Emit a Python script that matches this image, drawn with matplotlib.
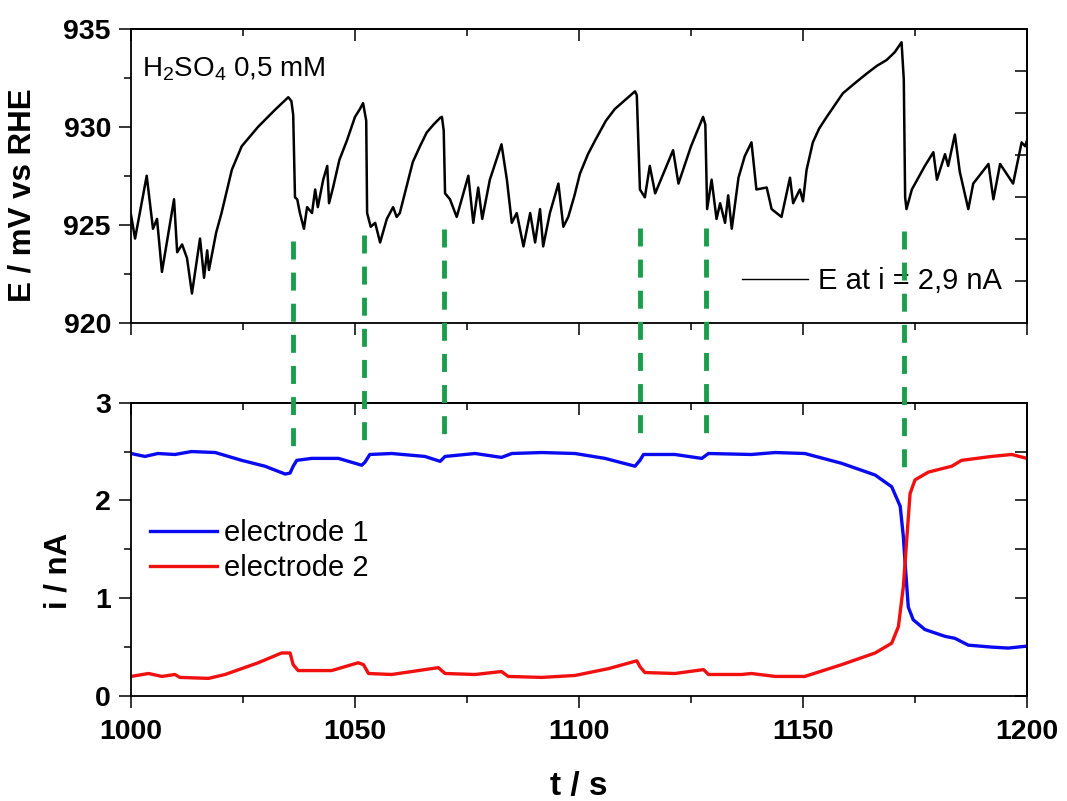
import numpy as np
import matplotlib
matplotlib.use("Agg")
import matplotlib.pyplot as plt
from matplotlib.lines import Line2D

plt.rcParams['font.family'] = ['Liberation Sans', 'DejaVu Sans']
plt.rcParams['mathtext.fontset'] = 'custom'
plt.rcParams['mathtext.rm'] = 'Liberation Sans'

# potential trace E (mV vs RHE)
E_t = [1000.0, 1000.9, 1003.5, 1004.9, 1005.8, 1006.9, 1009.6, 1010.3, 1011.4, 1012.5,
       1013.6, 1015.4, 1016.3, 1017.0, 1017.4, 1019.0, 1020.2, 1022.5, 1024.7, 1028.4,
       1032.1, 1035.1, 1035.8, 1036.2, 1036.6, 1037.1, 1037.7, 1038.6, 1039.3, 1040.4,
       1041.1, 1041.7, 1042.9, 1043.8, 1044.2, 1045.1, 1046.5, 1048.2, 1050.0, 1051.1,
       1051.8, 1052.5, 1052.7, 1053.5, 1054.5, 1055.6, 1057.1, 1058.5, 1059.3, 1060.0,
       1062.9, 1064.5, 1066.0, 1067.5, 1069.0, 1069.4, 1069.8, 1070.1, 1071.2, 1072.7,
       1075.3, 1076.4, 1077.5, 1078.4, 1080.1, 1082.7, 1083.9, 1085.0, 1086.1, 1087.6,
       1089.1, 1090.2, 1091.3, 1092.0, 1093.5, 1095.4, 1096.5, 1097.6, 1099.0, 1100.2,
       1102.0, 1103.6, 1106.0, 1108.0, 1110.5, 1112.5, 1112.9, 1113.6, 1114.7, 1115.8,
       1117.0, 1121.0, 1122.2, 1125.0, 1127.7, 1128.2, 1128.6, 1129.6, 1130.7, 1131.5,
       1132.6, 1133.3, 1134.1, 1135.6, 1137.0, 1138.5, 1139.6, 1141.9, 1143.0, 1145.2,
       1147.1, 1147.8, 1149.3, 1150.0, 1150.8, 1152.2, 1153.6, 1155.3, 1158.9, 1161.5,
       1164.2, 1166.5, 1168.7, 1170.5, 1172.0, 1172.5, 1172.8, 1173.1, 1174.3, 1177.2,
       1179.1, 1179.9, 1181.7, 1182.4, 1183.9, 1185.0, 1186.9, 1188.0, 1191.4, 1192.5,
       1194.0, 1196.9, 1198.8, 1199.6, 1200.0]
E_v = [925.5, 924.3, 927.5, 924.8, 925.3, 922.6, 926.3, 923.6, 924.0, 923.3,
       921.5, 924.3, 922.3, 923.7, 922.7, 924.6, 925.6, 927.8, 929.0, 930.0,
       930.85, 931.5, 931.3, 930.6, 926.4, 926.3, 925.6, 924.8, 925.9, 925.6,
       926.8, 925.9, 927.3, 928.0, 926.1, 926.9, 928.3, 929.3, 930.5, 930.9,
       931.2, 930.3, 925.6, 924.9, 925.1, 924.1, 925.3, 925.9, 925.4, 925.6,
       928.2, 929.0, 929.7, 930.1, 930.45, 930.5, 929.8, 926.6, 926.3, 925.4,
       927.5, 925.1, 926.9, 925.3, 927.3, 929.1, 927.3, 925.1, 925.6, 923.9,
       925.6, 924.1, 925.8, 923.9, 925.6, 927.1, 924.9, 925.4, 926.5, 927.6,
       928.6, 929.3, 930.3, 930.9, 931.4, 931.8, 931.6, 926.8, 926.4, 928.0,
       926.6, 928.8, 927.1, 929.0, 930.5, 930.1, 925.8, 927.3, 925.3, 926.1,
       925.1, 926.5, 924.8, 927.4, 928.5, 929.2, 926.8, 926.9, 925.8, 925.4,
       927.4, 926.1, 926.8, 926.2, 927.8, 929.2, 929.9, 930.5, 931.7, 932.2,
       932.7, 933.1, 933.4, 933.8, 934.3, 932.4, 926.4, 925.8, 926.8, 928.0,
       928.7, 927.3, 928.6, 928.0, 929.6, 927.7, 925.8, 927.1, 928.1, 926.3,
       928.1, 927.1, 929.2, 929.0, 929.3]

# currents (nA)
i1_t = [1000.0, 1003.1, 1006.0, 1009.8, 1013.5, 1018.8, 1024.7, 1029.9, 1034.4, 1035.5,
        1036.2, 1037.0, 1040.3, 1046.3, 1051.5, 1052.2, 1053.3, 1058.2, 1065.6, 1069.0,
        1070.1, 1076.8, 1082.7, 1085.0, 1091.7, 1099.1, 1105.8, 1112.5, 1113.6, 1114.4,
        1121.4, 1127.4, 1128.9, 1138.5, 1143.8, 1150.4, 1158.6, 1166.1, 1169.8, 1171.7,
        1172.4, 1172.9, 1173.5, 1174.6, 1177.2, 1181.7, 1183.9, 1186.9, 1192.1, 1195.8,
        1200.0]
i1_v = [2.48, 2.45, 2.48, 2.47, 2.50, 2.49, 2.41, 2.35, 2.27, 2.28,
        2.35, 2.41, 2.43, 2.43, 2.36, 2.39, 2.47, 2.48, 2.45, 2.40,
        2.45, 2.48, 2.44, 2.48, 2.49, 2.48, 2.43, 2.35, 2.41, 2.47,
        2.47, 2.43, 2.48, 2.47, 2.49, 2.48, 2.38, 2.26, 2.14, 1.94,
        1.63, 1.29, 0.91, 0.78, 0.68, 0.61, 0.59, 0.52, 0.50, 0.49,
        0.51]
i2_t = [1000.0, 1003.9, 1006.9, 1009.8, 1010.9, 1017.3, 1021.0, 1028.4, 1033.6, 1035.5,
        1036.2, 1037.3, 1044.8, 1050.7, 1051.9, 1053.0, 1058.2, 1068.6, 1070.1, 1076.8,
        1082.7, 1084.2, 1091.7, 1099.1, 1106.6, 1112.9, 1113.6, 1114.7, 1121.4, 1127.8,
        1128.9, 1136.3, 1138.5, 1143.8, 1150.4, 1158.6, 1166.1, 1169.8, 1171.3, 1172.4,
        1173.2, 1173.9, 1175.0, 1178.0, 1183.2, 1185.4, 1192.1, 1196.6, 1200.0]
i2_v = [0.20, 0.23, 0.20, 0.22, 0.19, 0.18, 0.22, 0.34, 0.44, 0.44,
        0.32, 0.26, 0.26, 0.34, 0.32, 0.23, 0.22, 0.29, 0.23, 0.22,
        0.25, 0.20, 0.19, 0.21, 0.28, 0.36, 0.30, 0.24, 0.23, 0.27,
        0.22, 0.22, 0.23, 0.20, 0.20, 0.32, 0.44, 0.54, 0.71, 1.12,
        1.63, 2.07, 2.21, 2.29, 2.35, 2.41, 2.45, 2.47, 2.43]

# events marked by the green dashed lines
mark_t = [1036.2, 1052.0, 1069.8, 1113.6, 1128.4, 1172.6]
mark_E = [924.2, 924.5, 924.8, 924.85, 924.85, 924.7]
mark_i = [2.49, 2.54, 2.60, 2.60, 2.60, 2.24]

green = '#1a9e4c'

fig = plt.figure(figsize=(10.67, 8.01), dpi=100)
ax1 = fig.add_axes([0.1228, 0.5968, 0.8397, 0.3676])
ax2 = fig.add_axes([0.1228, 0.1311, 0.8397, 0.3662])

ax1.plot(E_t, E_v, color='black', lw=1.8, label='E at i = 2,9 nA')
ax2.plot(i1_t, i1_v, color='#0a0af0', lw=2.4, label='electrode 1')
ax2.plot(i2_t, i2_v, color='#f01010', lw=2.4, label='electrode 2')

ax1.set_xlim(1000, 1200)
ax1.set_ylim(920, 935)
ax2.set_xlim(1000, 1200)
ax2.set_ylim(0, 3)

for ax in (ax1, ax2):
    ax.set_xticks(np.arange(1000, 1201, 50))
    ax.set_xticks(np.arange(1000, 1201, 25), minor=True)
    ax.tick_params(which='major', direction='out', length=8.5, width=1.1, labelsize=20.5, pad=6)
    ax.tick_params(which='minor', direction='out', length=5, width=1.1)
    ax.tick_params(axis='x', pad=8)
    for s in ax.spines.values():
        s.set_linewidth(1.3)
    for lab in ax.get_xticklabels() + ax.get_yticklabels():
        lab.set_fontweight('bold')
    top = ax.secondary_xaxis('top')
    top.set_xticks(np.arange(1000, 1201, 50))
    top.set_xticks(np.arange(1000, 1201, 25), minor=True)
    top.tick_params(which='major', direction='in', length=8.5, width=1.1, labeltop=False)
    top.tick_params(which='minor', direction='in', length=5, width=1.1)
    top.spines['top'].set_linewidth(1.3)

ax1.tick_params(axis='x', labelbottom=False)
ax1.set_yticks([920, 925, 930, 935])
ax1.set_yticks(np.arange(920, 935.1, 2.5), minor=True)
r1 = ax1.secondary_yaxis('right')
r1.set_yticks([920 + 15 * k / 7 for k in range(1, 7)])
r1.tick_params(direction='in', length=8.5, width=1.1, labelright=False)
r1.spines['right'].set_linewidth(1.3)

ax2.set_yticks([0, 1, 2, 3])
ax2.set_yticks(np.arange(0, 3.01, 0.5), minor=True)
r2 = ax2.secondary_yaxis('right')
r2.set_yticks(np.arange(0, 3.01, 0.5))
r2.tick_params(direction='in', length=8.5, width=1.1, labelright=False)
r2.spines['right'].set_linewidth(1.3)

ax1.set_ylabel('E / mV vs RHE', fontsize=22.5, fontweight='bold')
ax1.yaxis.set_label_coords(-0.104, 0.435)
ax2.set_ylabel('i / nA', fontsize=22.5, fontweight='bold')
ax2.yaxis.set_label_coords(-0.064, 0.426)
ax2.set_xlabel('t / s', fontsize=24, fontweight='bold', labelpad=19)

ax1.text(0.012, 0.836, r'H$\mathregular{_2}$SO$\mathregular{_4}$ 0,5 mM', transform=ax1.transAxes,
         fontsize=20)

ax1.legend(loc='center right', bbox_to_anchor=(0.972, 0.143), frameon=False, fontsize=21,
           handlelength=2.25, handletextpad=0.35, borderpad=0, borderaxespad=0)
leg1 = ax1.get_legend()
leg1.get_lines()[0].set_linewidth(1.0)
ax2.legend(loc='center left', bbox_to_anchor=(0.021, 0.496), frameon=False, fontsize=21,
           handlelength=2.3, handletextpad=0.25, borderpad=0, borderaxespad=0, labelspacing=0.25)

# dashed markers run from the top panel down into the bottom panel
to_fig = fig.transFigure.inverted()
for t, e, i in zip(mark_t, mark_E, mark_i):
    x0, y0 = to_fig.transform(ax1.transData.transform((t, e)))
    x1, y1 = to_fig.transform(ax2.transData.transform((t, i)))
    fig.add_artist(Line2D([x0, x1], [y0, y1], transform=fig.transFigure, color=green,
                          lw=3.5, dashes=(3.7, 2.7), zorder=5))

fig.savefig('out.png', dpi=100)
